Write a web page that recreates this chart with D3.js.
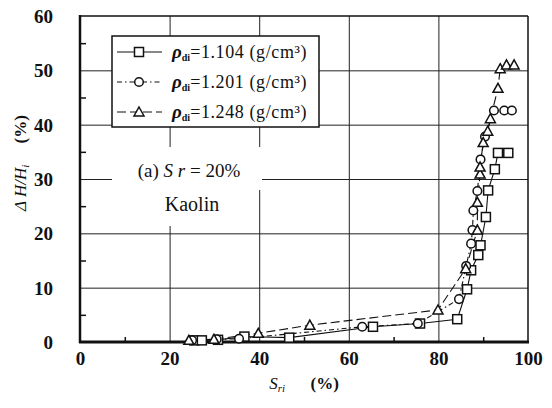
<!DOCTYPE html>
<html>
<head>
<meta charset="utf-8">
<script src="https://cdn.jsdelivr.net/npm/d3@7"></script>
<style>
  body { margin: 0; background: #fff; }
  text { font-family: "Liberation Serif", "DejaVu Serif", serif; fill: #111; }
</style>
</head>
<body>
<div id="chart"></div>
<script>
// values: [Sri (%), dH/Hi (%)]
var seriesLabels = ["1.104", "1.201", "1.248"];
var squarePts = [[25.5, 0.3], [27.2, 0.3], [30.8, 0.4], [36.7, 1.0], [46.7, 0.8], [65.4, 2.8],
  [75.9, 3.4], [84.2, 4.2], [86.4, 9.7], [87.3, 13.2], [88.9, 16.0], [89.4, 17.8],
  [90.6, 23.0], [91.1, 27.9], [92.6, 31.8], [93.3, 34.8], [95.6, 34.8]];
var circlePts = [[25.0, 0.3], [30.5, 0.5], [35.5, 0.6], [63.0, 2.8], [75.4, 3.4], [84.6, 7.9],
  [86.2, 14.0], [87.3, 18.1], [87.6, 20.6], [87.8, 24.2], [88.7, 27.8], [89.4, 33.6],
  [90.4, 37.8], [92.4, 42.6], [94.7, 42.6], [96.4, 42.6]];
var trianglePts = [[24.3, 0.3], [29.9, 0.5], [39.8, 1.6], [51.3, 3.1], [79.9, 5.9], [86.1, 13.5],
  [88.7, 20.6], [88.7, 25.7], [89.3, 30.9], [89.3, 32.2], [90.0, 36.7], [91.0, 38.8],
  [91.6, 41.1], [93.3, 46.7], [93.8, 50.3], [95.2, 51.0], [96.9, 51.0]];
var xTicks = [0, 20, 40, 60, 80, 100];
var xMinor = [10, 30, 50, 70, 90];
var yTicks = [0, 10, 20, 30, 40, 50, 60];
var yMinor = [5, 15, 25, 35, 45, 55];

var width = 552, height = 408;
var margin = {top: 16, right: 24, bottom: 66, left: 80};
var w = width - margin.left - margin.right;
var h = height - margin.top - margin.bottom;

var svg = d3.select("#chart").append("svg")
  .attr("width", width).attr("height", height);
var g = svg.append("g").attr("transform", "translate(" + margin.left + "," + margin.top + ")");

var x = d3.scaleLinear().domain([0, 100]).range([0, w]);
var y = d3.scaleLinear().domain([0, 60]).range([h, 0]);

// gridlines
g.append("g").attr("class", "grid")
  .attr("transform", "translate(0," + h + ")")
  .call(d3.axisBottom(x).tickValues([20, 40, 60, 80]).tickSize(-h).tickFormat(""))
  .call(function (s) { s.select(".domain").remove(); });
g.append("g").attr("class", "grid")
  .call(d3.axisLeft(y).tickValues([10, 20, 30, 40, 50]).tickSize(-w).tickFormat(""))
  .call(function (s) { s.select(".domain").remove(); });
g.selectAll(".grid line").attr("stroke", "#222").attr("stroke-width", 1);

// minor ticks inside
g.append("g").attr("class", "minor")
  .attr("transform", "translate(0," + h + ")")
  .call(d3.axisBottom(x).tickValues(xMinor).tickSize(-5).tickFormat(""))
  .call(function (s) { s.select(".domain").remove(); });
g.append("g").attr("class", "minor")
  .call(d3.axisLeft(y).tickValues(yMinor).tickSize(-6).tickFormat(""))
  .call(function (s) { s.select(".domain").remove(); });
g.selectAll(".minor line").attr("stroke", "#111").attr("stroke-width", 1.5);

// white boxes behind the annotation
g.append("rect").attr("x", 112 - margin.left).attr("y", 147 - margin.top)
  .attr("width", 150).attr("height", 43).attr("fill", "#fff");
g.append("rect").attr("x", 148 - margin.left).attr("y", 188 - margin.top)
  .attr("width", 92).attr("height", 38).attr("fill", "#fff");

// frame
g.append("line").attr("x1", 0).attr("x2", w).attr("y1", 0).attr("y2", 0)
  .attr("stroke", "#111").attr("stroke-width", 1.5);
g.append("line").attr("x1", w).attr("x2", w).attr("y1", 0).attr("y2", h)
  .attr("stroke", "#111").attr("stroke-width", 1.5);
g.append("line").attr("x1", 0).attr("x2", 0).attr("y1", -1).attr("y2", h + 1)
  .attr("stroke", "#111").attr("stroke-width", 2.5);
g.append("line").attr("x1", -1).attr("x2", w + 1).attr("y1", h).attr("y2", h)
  .attr("stroke", "#111").attr("stroke-width", 3);

// tick labels
var xAxis = g.append("g")
  .attr("transform", "translate(0," + h + ")")
  .call(d3.axisBottom(x).tickValues(xTicks).tickSize(0).tickPadding(10).tickFormat(d3.format("d")));
xAxis.select(".domain").remove();
var yAxis = g.append("g")
  .call(d3.axisLeft(y).tickValues(yTicks).tickSize(0).tickPadding(27).tickFormat(d3.format("d")));
yAxis.select(".domain").remove();
g.selectAll(".tick text")
  .attr("font-family", "Liberation Serif").attr("font-size", 19)
  .attr("font-weight", "bold").attr("fill", "#111");
yAxis.selectAll(".tick text").attr("dy", "0.35em");

// series
var series = [
  {pts: squarePts, shape: "square", dash: null},
  {pts: circlePts, shape: "circle", dash: "5,3,1.5,3"},
  {pts: trianglePts, shape: "triangle", dash: "9,4"}
];
var line = d3.line().x(function (d) { return x(d[0]); }).y(function (d) { return y(d[1]); });

function drawMarker(sel, shape) {
  if (shape === "square") {
    sel.append("rect").attr("x", -4.5).attr("y", -4.5).attr("width", 9).attr("height", 9);
  } else if (shape === "circle") {
    sel.append("circle").attr("r", 4.3);
  } else {
    sel.append("path").attr("d", "M0,-5 L5,4 L-5,4 Z");
  }
  sel.selectAll("rect,circle,path").attr("fill", "#fff").attr("stroke", "#111").attr("stroke-width", 1.5);
}

series.forEach(function (s) {
  g.append("path").datum(s.pts)
    .attr("d", line).attr("fill", "none").attr("stroke", "#111")
    .attr("stroke-width", 1.1).attr("stroke-dasharray", s.dash);
});
series.forEach(function (s) {
  g.selectAll(".m-" + s.shape).data(s.pts).enter().append("g")
    .attr("class", "m-" + s.shape)
    .attr("transform", function (d) { return "translate(" + x(d[0]) + "," + y(d[1]) + ")"; })
    .each(function () { drawMarker(d3.select(this), s.shape); });
});

// legend
var lg = svg.append("g");
lg.append("rect").attr("x", 112).attr("y", 36).attr("width", 207).attr("height", 91)
  .attr("fill", "#fff").attr("stroke", "#111").attr("stroke-width", 1.5);
series.forEach(function (s, i) {
  var yy = 52 + i * 30;
  lg.append("line").attr("x1", 117).attr("x2", 162).attr("y1", yy).attr("y2", yy)
    .attr("stroke", "#111").attr("stroke-width", 1.1).attr("stroke-dasharray", s.dash);
  var m = lg.append("g").attr("transform", "translate(139," + yy + ")");
  drawMarker(m, s.shape);
  var t = lg.append("text").attr("x", 172).attr("y", yy + 6).attr("font-size", 18);
  t.append("tspan").attr("font-style", "italic").attr("font-weight", "bold").attr("font-size", 19).text("ρ");
  t.append("tspan").attr("font-size", 10).attr("font-weight", "bold").attr("dy", 3).text("di");
  t.append("tspan").attr("dy", -3).attr("letter-spacing", 0.6).text("=" + seriesLabels[i] + " (g/cm³)");
});

// annotation
var a1 = svg.append("text").attr("x", 189).attr("y", 177).attr("text-anchor", "middle").attr("font-size", 19);
a1.append("tspan").text("(a) ");
a1.append("tspan").attr("font-style", "italic").text("S r");
a1.append("tspan").text(" = 20%");
svg.append("text").attr("x", 192).attr("y", 211).attr("text-anchor", "middle").attr("font-size", 20).text("Kaolin");

// axis titles
var xt = svg.append("text").attr("x", 304).attr("y", 389).attr("text-anchor", "middle").attr("font-size", 17);
xt.append("tspan").attr("font-style", "italic").text("S");
xt.append("tspan").attr("font-style", "italic").attr("font-size", 11).attr("dy", 3).text("ri");
xt.append("tspan").attr("dy", -3).attr("font-weight", "bold").text("\u00a0\u00a0\u00a0\u00a0\u00a0\u00a0(%)");

var yt = svg.append("text").attr("transform", "translate(26,163) rotate(-90)")
  .attr("text-anchor", "middle").attr("font-size", 17);
yt.append("tspan").attr("font-style", "italic").text("Δ H/H");
yt.append("tspan").attr("font-style", "italic").attr("font-size", 11).attr("dy", 3).text("i");
yt.append("tspan").attr("dy", -3).attr("font-weight", "bold").text("\u00a0\u00a0\u00a0\u00a0\u00a0(%)");
</script>
</body>
</html>
